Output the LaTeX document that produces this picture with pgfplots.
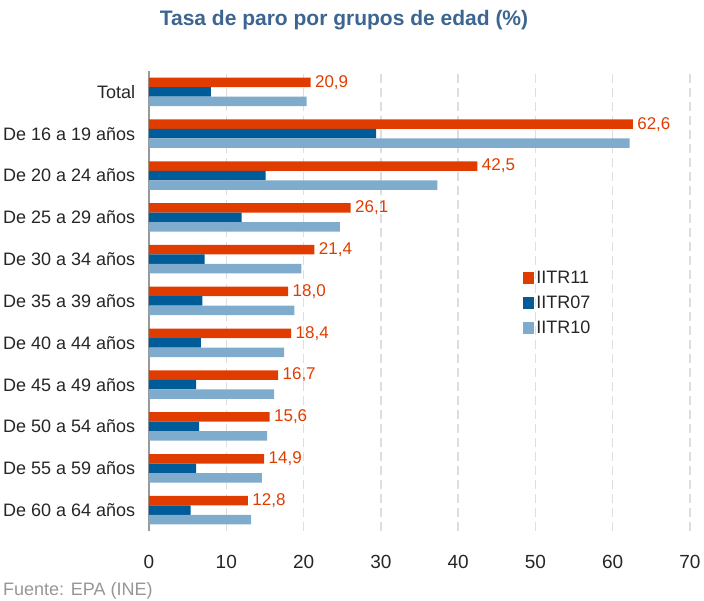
\documentclass[border=0pt]{standalone}
\usepackage{fontspec}
\setmainfont{Liberation Sans}
\usepackage{pgfplots}
\pgfplotsset{compat=1.18}
\definecolor{c11}{RGB}{224,60,0}
\definecolor{c07}{RGB}{0,92,153}
\definecolor{c10}{RGB}{127,172,205}
\definecolor{ctitle}{RGB}{61,101,145}
\definecolor{cgrid}{RGB}{222,222,222}
\definecolor{csrc}{RGB}{150,150,150}

\begin{document}
\begin{tikzpicture}[x=1pt,y=1pt]
\useasboundingbox (0,0) rectangle (704,-601);
\begin{axis}[
  at={(149pt,-531pt)}, anchor=south west,
  scale only axis, width=541pt, height=460pt,
  xbar, bar width=9.5pt,
  xmin=0, xmax=70, ymin=-0.5, ymax=10.5,
  /pgf/number format/assume math mode=true,
  axis lines*=left,
  x axis line style={draw=none},
  y axis line style={-, draw=gray!80, line width=1.2pt},
  xtick={0,10,...,70},
  xtick style={draw=none},
  xticklabel shift=21pt,
  xticklabel style={font=\fontsize{19}{21}\selectfont},
  xmajorgrids, grid style={cgrid, line width=1.4pt, dash pattern=on 9pt off 5pt},
  ytick={0,...,10},
  yticklabels={De 60 a 64 años, De 55 a 59 años, De 50 a 54 años, De 45 a 49 años,
    De 40 a 44 años, De 35 a 39 años, De 30 a 34 años, De 25 a 29 años,
    De 20 a 24 años, De 16 a 19 años, Total},
  ytick style={draw=none},
  yticklabel shift=6pt,
  yticklabel style={font=\fontsize{18}{20}\selectfont},
  extra y ticks={-0.5,0.5,...,10.5},
  extra y tick labels={},
  extra y tick style={tick style={draw=gray!80, line width=1.2pt}, major tick length=5pt, tick align=outside},
  ticklabel style={text=black!85},
  legend style={at={(0.686,0.574)}, anchor=north west, draw=none, fill=none,
    font=\fontsize{18}{20}\selectfont, row sep=7pt, text=black!85,
    nodes={inner xsep=2pt}},
  legend cell align=left,
  legend image code/.code={\fill[#1] (0pt,-6pt) rectangle (11pt,6pt);},
]
\addplot[fill=c11, draw=none, bar shift=9.5pt,
  nodes near coords, point meta=x,
  nodes near coords style={font=\fontsize{17}{19}\selectfont, text=c11, anchor=west, xshift=1pt,
    /pgf/number format/.cd, fixed, fixed zerofill, precision=1, use comma}]
coordinates {(12.8,0)(14.9,1)(15.6,2)(16.7,3)(18.4,4)(18.0,5)(21.4,6)(26.1,7)(42.5,8)(62.6,9)(20.9,10)};
\addplot[fill=c07, draw=none, bar shift=0pt]
coordinates {(5.4,0)(6.1,1)(6.5,2)(6.1,3)(6.7,4)(6.9,5)(7.2,6)(12.0,7)(15.1,8)(29.4,9)(8.0,10)};
\addplot[fill=c10, draw=none, bar shift=-9.5pt]
coordinates {(13.2,0)(14.6,1)(15.3,2)(16.2,3)(17.5,4)(18.8,5)(19.7,6)(24.7,7)(37.3,8)(62.2,9)(20.4,10)};
\legend{IITR11, IITR07, IITR10}
\end{axis}
\node[font=\bfseries\fontsize{21}{24}\selectfont, text=ctitle] at (344,-20) {Tasa de paro por grupos de edad (\%)};
\node[anchor=west, inner sep=0pt, font=\fontsize{18}{20}\selectfont, text=csrc] at (3,-591) {Fuente: EPA (INE)};
\end{tikzpicture}
\end{document}
